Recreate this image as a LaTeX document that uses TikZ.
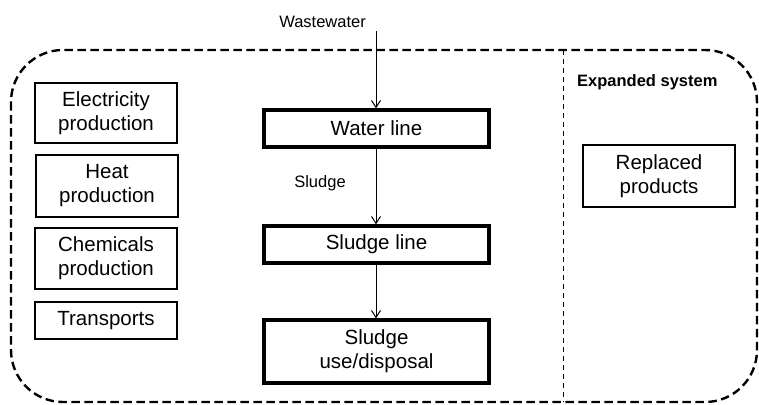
\documentclass[tikz,border=0pt]{standalone}
\usepackage{fontspec}
\setmainfont{Liberation Sans}
\usetikzlibrary{arrows.meta}
\begin{document}
\begin{tikzpicture}[x=1pt,y=-1pt,
  thinbox/.style={draw,line width=1.2pt,minimum width=142pt,align=center,font=\fontsize{20.5}{24}\selectfont,inner sep=0pt},
  thickbox/.style={draw,line width=3.3pt,minimum width=225pt,align=center,font=\fontsize{20.5}{24}\selectfont,inner sep=0pt},
  lbl/.style={font=\fontsize{16.5}{19}\selectfont,inner sep=0pt},
  flow/.style={line width=1pt,-{Straight Barb[length=7pt,width=9pt]}}]
\useasboundingbox (0,0) rectangle (759,404);
\draw[line width=2.4pt,dash pattern=on 8.5pt off 4.5pt,rounded corners=52pt] (11,50) rectangle (757,402);
\draw[line width=1pt,dash pattern=on 5pt off 4pt] (563,50) -- (563,402);
\node[thinbox,minimum height=60pt] (elec) at (106,113) {Electricity\\production};
\node[thinbox,minimum height=62pt] (heat) at (107,186) {Heat\\production};
\node[thinbox,minimum height=61pt] (chem) at (106,258.5) {Chemicals\\production};
\node[thinbox,minimum height=37pt] (trans) at (106,320.5) {Transports};
\node[thickbox,minimum height=37pt] (water) at (376.5,128.5) {Water line};
\node[thickbox,minimum height=37pt] (sline) at (376.5,244.5) {Sludge line};
\node[thickbox,minimum height=63pt] (suse) at (376.5,351.5) {Sludge\\use/disposal};
\node[thinbox,minimum width=152pt,minimum height=62pt] (repl) at (659,176) {Replaced\\products};
\node[lbl,font=\bfseries\fontsize{16.5}{19}\selectfont,anchor=west] (exp) at (577,82) {Expanded system};
\node[lbl,anchor=east] (ww) at (366,22) {Wastewater};
\node[lbl] (sl) at (320,183) {Sludge};
\coordinate (top) at (376,31);
\draw[flow] (top) -- (water.north -| top);
\draw[flow] (water.south -| top) -- (sline.north -| top);
\draw[flow] (sline.south -| top) -- (suse.north -| top);
\end{tikzpicture}
\end{document}
